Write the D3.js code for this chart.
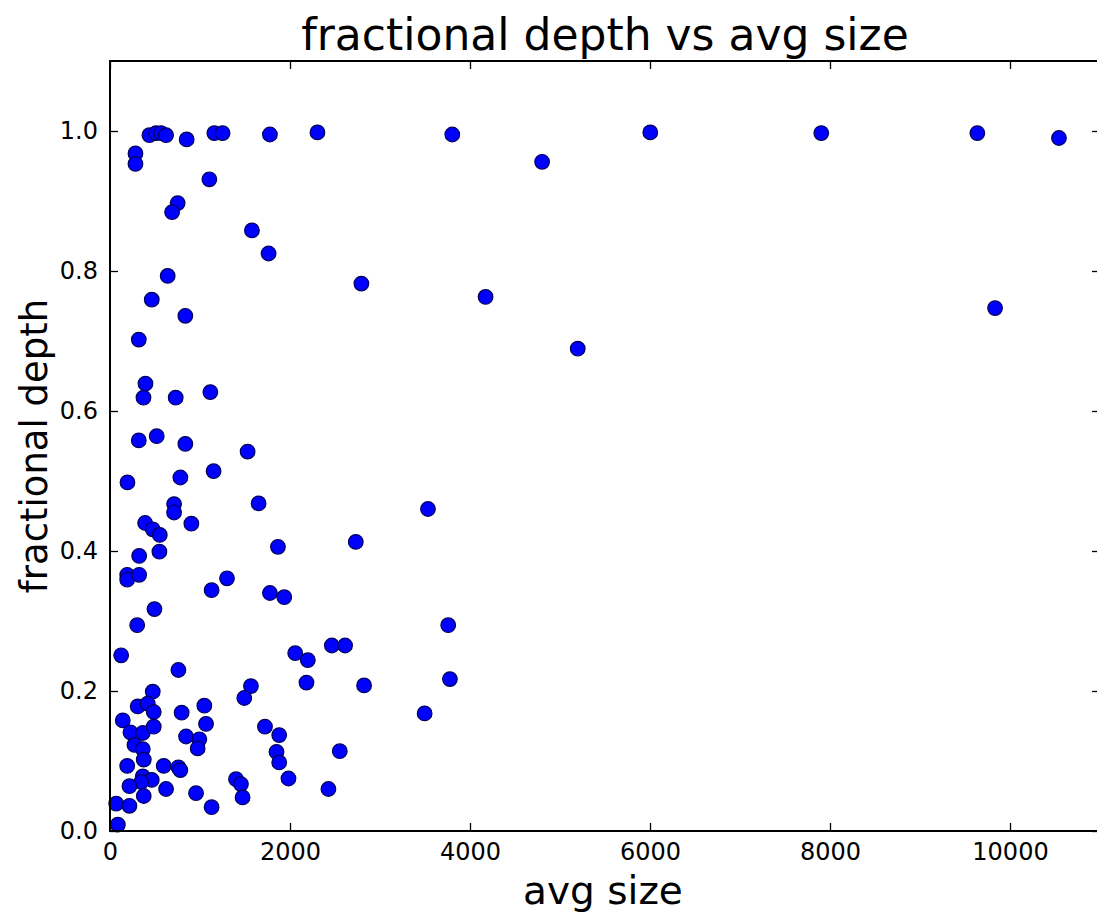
<!DOCTYPE html>
<html>
<head>
<meta charset="utf-8">
<script src="https://cdnjs.cloudflare.com/ajax/libs/d3/7.8.5/d3.min.js"></script>
<style>
  body { margin: 0; background: #fff; }
  svg text { font-family: "DejaVu Sans", sans-serif; fill: #000; }
</style>
</head>
<body>
<div id="chart"></div>
<script>
// data
var avgSize = [438, 512, 568, 623, 852, 1159, 1251, 1777, 2305, 3803, 4801, 6003, 7903, 9637, 10544,
  283, 283, 1104, 752, 690, 1577, 1762, 641, 2793, 4173, 9834, 464, 837, 5197, 320,
  394, 372, 730, 1115, 320, 519, 837, 1529, 194, 782, 1151, 1651, 3533, 712, 712,
  390, 475, 553, 904, 1866, 2731, 324, 549, 191, 191, 324, 1300, 1129, 1777, 1936,
  494, 302, 3758, 124, 760, 2058, 2198, 2465, 2612, 2183, 2823, 1566, 1492, 3777, 475,
  308, 419, 486, 796, 1048, 1067, 142, 227, 364, 486, 272, 364, 375, 845, 993,
  974, 1722, 1880, 1850, 1880, 2553, 3496, 1983, 2427, 191, 597, 760, 782, 364, 464,
  346, 216, 375, 623, 956, 1129, 69, 216, 87, 1400, 1455, 1473];
var fracDepth = [0.994, 0.997, 0.997, 0.994, 0.988, 0.997, 0.997, 0.995, 0.998, 0.995, 0.956, 0.998, 0.997, 0.997, 0.990,
  0.968, 0.953, 0.931, 0.897, 0.884, 0.858, 0.825, 0.793, 0.782, 0.763, 0.747, 0.759, 0.736, 0.689, 0.702,
  0.639, 0.619, 0.619, 0.627, 0.558, 0.564, 0.553, 0.542, 0.498, 0.505, 0.514, 0.468, 0.460, 0.467, 0.455,
  0.440, 0.431, 0.423, 0.439, 0.406, 0.413, 0.393, 0.399, 0.366, 0.359, 0.366, 0.361, 0.344, 0.340, 0.334,
  0.317, 0.294, 0.294, 0.251, 0.230, 0.254, 0.244, 0.265, 0.265, 0.212, 0.208, 0.207, 0.190, 0.217, 0.199,
  0.178, 0.182, 0.170, 0.169, 0.179, 0.153, 0.158, 0.141, 0.140, 0.149, 0.123, 0.117, 0.102, 0.135, 0.131,
  0.118, 0.149, 0.137, 0.113, 0.098, 0.114, 0.168, 0.075, 0.060, 0.093, 0.093, 0.091, 0.087, 0.078, 0.073,
  0.070, 0.064, 0.050, 0.060, 0.054, 0.034, 0.039, 0.036, 0.009, 0.074, 0.067, 0.048];
var xTicks = [0, 2000, 4000, 6000, 8000, 10000];
var yTicks = [0.0, 0.2, 0.4, 0.6, 0.8, 1.0];

var W = 1097, H = 916;
var margin = {top: 61, right: -3, bottom: 85, left: 110};
var width = W - margin.left - margin.right,
    height = H - margin.top - margin.bottom;

var x = d3.scaleLinear().domain([0, 11000]).range([0, width]);
var y = d3.scaleLinear().domain([0, 1.1]).range([height, 0]);

var svg = d3.select("#chart").append("svg")
    .attr("width", W)
    .attr("height", H);

var g = svg.append("g")
    .attr("transform", "translate(" + margin.left + "," + margin.top + ")");

// points
var pts = avgSize.map(function(d, i) { return {s: d, f: fracDepth[i]}; });
g.selectAll("circle")
    .data(pts)
  .enter().append("circle")
    .attr("cx", function(d) { return x(d.s); })
    .attr("cy", function(d) { return y(d.f); })
    .attr("r", 7.3)
    .attr("fill", "#0000ff")
    .attr("stroke", "#00005a")
    .attr("stroke-width", 1.2);

// axes, matplotlib classic look: ticks inward on all four sides
function styleAxis(sel) {
  sel.select(".domain").remove();
  sel.selectAll(".tick line").attr("stroke", "#000").attr("stroke-width", 1.3);
  sel.selectAll(".tick text").style("font-size", "24px").style("font-family", "DejaVu Sans");
}

var xAxis = d3.axisBottom(x).tickValues(xTicks).tickSizeInner(-8).tickSizeOuter(0).tickPadding(12)
    .tickFormat(d3.format("d"));
g.append("g")
    .attr("transform", "translate(0," + height + ")")
    .call(xAxis).call(styleAxis);

g.append("g")
    .call(d3.axisTop(x).tickValues(xTicks).tickSizeInner(-8).tickSizeOuter(0).tickFormat(""))
    .call(styleAxis);

var yAxis = d3.axisLeft(y).tickValues(yTicks).tickSizeInner(-8).tickSizeOuter(0).tickPadding(12)
    .tickFormat(d3.format(".1f"));
g.append("g").call(yAxis).call(styleAxis);

g.append("g")
    .attr("transform", "translate(" + width + ",0)")
    .call(d3.axisRight(y).tickValues(yTicks).tickSizeInner(-8).tickSizeOuter(0).tickFormat(""))
    .call(styleAxis);

// frame
g.append("rect")
    .attr("width", width)
    .attr("height", height)
    .attr("fill", "none")
    .attr("stroke", "#000")
    .attr("stroke-width", 2);

// labels
svg.append("text")
    .attr("x", margin.left + width / 2)
    .attr("y", 50)
    .attr("text-anchor", "middle")
    .style("font-size", "44px")
    .text("fractional depth vs avg size");

svg.append("text")
    .attr("x", margin.left + width / 2 - 2)
    .attr("y", 904)
    .attr("text-anchor", "middle")
    .style("font-size", "39px")
    .text("avg size");

svg.append("text")
    .attr("transform", "translate(47," + (margin.top + height / 2) + ") rotate(-90)")
    .attr("text-anchor", "middle")
    .style("font-size", "37px")
    .text("fractional depth");
</script>
</body>
</html>
